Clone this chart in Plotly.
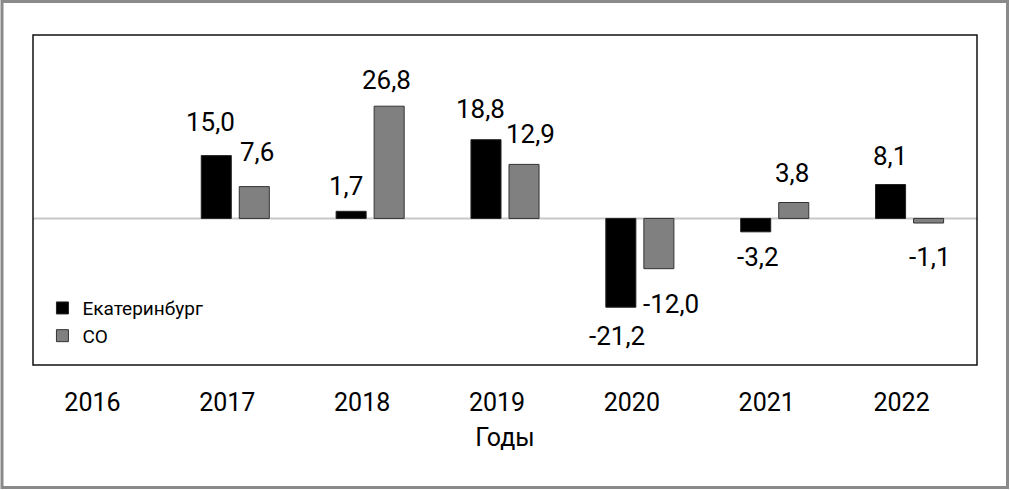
import plotly.graph_objects as go

years = ["2016", "2017", "2018", "2019", "2020", "2021", "2022"]
ekb = [None, 15.0, 1.7, 18.8, -21.2, -3.2, 8.1]
so = [None, 7.6, 26.8, 12.9, -12.0, 3.8, -1.1]
ekb_labels = ["", "15,0", "1,7", "18,8", "-21,2", "-3,2", "8,1"]
so_labels = ["", "7,6", "26,8", "12,9", "-12,0", "3,8", "-1,1"]
series_names = ["Екатеринбург", "СО"]
axis_title = "Годы"

# label nudges (pixels): (xshift relative to category center, yshift from bar end)
ekb_nudge = [None, (-25, 34), (-24, 25), (-25, 31), (-23, -29), (-17, -25), (-20, 29)]
so_nudge = [None, (22, 35), (16, 26), (25, 30), (31, -35), (17, 30), (20, -34)]

FONT = "Roboto, Liberation Sans Narrow, sans-serif"
W, H = 1010, 490
L, R, T, B = 33, 33, 35, 125
pw, ph = W - L - R, H - T - B

fig = go.Figure()
fig.add_trace(go.Bar(x=years, y=ekb, name=series_names[0],
                     marker=dict(color="#000000", line=dict(color="#222222", width=1))))
fig.add_trace(go.Bar(x=years, y=so, name=series_names[1],
                     marker=dict(color="#808080", line=dict(color="#333333", width=1))))

annotations = []
for vals, labels, nudges in ((ekb, ekb_labels, ekb_nudge), (so, so_labels, so_nudge)):
    for idx, (v, lab, nd) in enumerate(zip(vals, labels, nudges)):
        if v is None:
            continue
        annotations.append(dict(x=idx, y=v, xref="x", yref="y", text=lab, showarrow=False,
                                xshift=nd[0], yshift=nd[1], xanchor="center", yanchor="middle",
                                font=dict(family=FONT, size=26, color="#000000")))

def px_x(p):
    return (p - L) / pw

def px_y(p):
    return 1 - (p - T) / ph

shapes = [
    # zero line
    dict(type="line", xref="paper", yref="y", x0=0, x1=px_x(978), y0=0, y1=0,
         line=dict(color="#c8c8c8", width=2), layer="below"),
    # plot box
    dict(type="rect", xref="paper", yref="paper", x0=0, x1=1, y0=0, y1=1,
         line=dict(color="#111111", width=1.5)),
    # outer frame
    dict(type="rect", xref="paper", yref="paper", x0=px_x(2), x1=px_x(1007.5),
         y0=px_y(487.5), y1=px_y(1.5), line=dict(color="#8a8a8a", width=3)),
]

fig.update_layout(
    width=W, height=H,
    margin=dict(l=L, r=R, t=T, b=B, autoexpand=False),
    paper_bgcolor="white", plot_bgcolor="white",
    barmode="group", bargap=0.436, bargroupgap=0.21,
    font=dict(family=FONT, size=26, color="#000000"),
    showlegend=True,
    legend=dict(x=0.01, y=0.23, xanchor="left", yanchor="top",
                font=dict(family=FONT, size=19, color="#000000"),
                bgcolor="rgba(0,0,0,0)", itemwidth=30, tracegroupgap=4),
    annotations=annotations,
    shapes=shapes,
)
fig.update_xaxes(type="category", range=[-0.5, 6.5], automargin=False,
                 showgrid=False, zeroline=False, showline=False,
                 ticks="", ticklabelstandoff=20, ticklabelshift=-8,
                 tickfont=dict(family=FONT, size=25, color="#000000"),
                 title=dict(text=axis_title, font=dict(family=FONT, size=25, color="#000000"), standoff=12))
fig.update_yaxes(range=[-35, 43.8], automargin=False, showgrid=False, zeroline=False, showline=False,
                 showticklabels=False, ticks="")

fig.write_html("out.html", config={"displayModeBar": False},
               post_script="document.body.style.margin='0';")
